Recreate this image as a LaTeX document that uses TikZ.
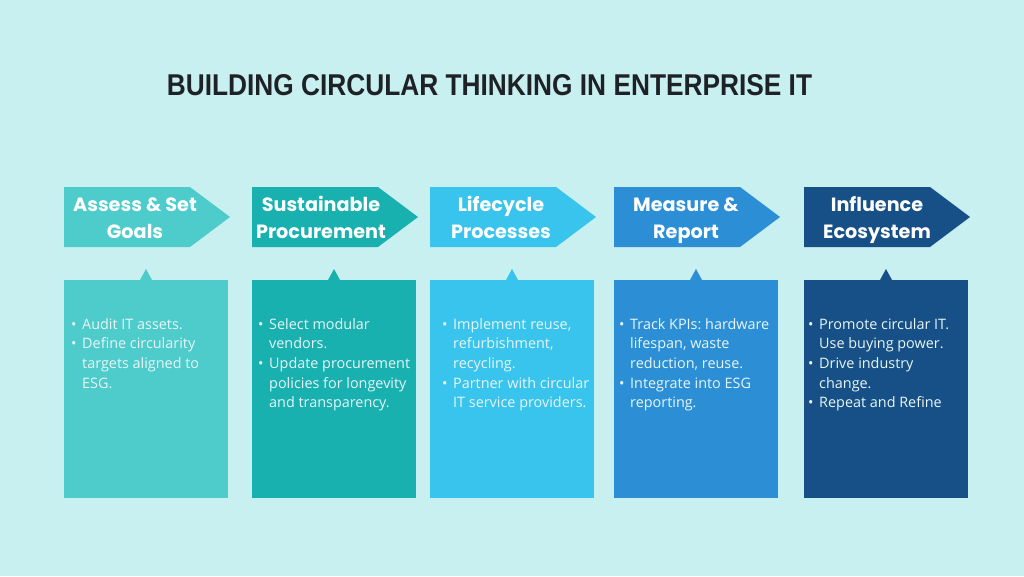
\documentclass[tikz,border=0pt]{standalone}
\usepackage{graphicx}
\usepackage{fontspec}
\setmainfont{Open Sans}
\newfontfamily\headfont{Poppins}
\newfontfamily\titlefont{Liberation Sans}
\definecolor{bg}{RGB}{201,240,240}
\definecolor{titlec}{RGB}{30,34,38}
\definecolor{cA}{RGB}{78,204,203}
\definecolor{cB}{RGB}{25,176,176}
\definecolor{cC}{RGB}{56,196,236}
\definecolor{cD}{RGB}{44,143,214}
\definecolor{cE}{RGB}{22,80,134}
\definecolor{bodyc}{RGB}{232,246,246}
\tikzset{
  headtxt/.style={anchor=base, inner sep=0pt, text=white, font=\headfont\bfseries\fontsize{19.2}{27}\selectfont},
  bodytxt/.style={anchor=base west, inner sep=0pt, text=bodyc, font=\frenchspacing\fontsize{14.4}{19.7}\selectfont},
}
\newcommand{\bl}{\textbullet}
\newenvironment{blist}{\begin{tabular}[t]{@{}p{5pt}@{\hspace{6pt}}l@{}}}{\end{tabular}}
\begin{document}
\begin{tikzpicture}[x=1pt,y=-1pt]
\fill[bg] (0,0) rectangle (1024,576);
\useasboundingbox (0,0) rectangle (1024,576);
% title
\node[anchor=base, inner sep=0pt, text=titlec] (title) at (489.5,95)
  {\resizebox{645pt}{21pt}{\titlefont\bfseries BUILDING CIRCULAR THINKING IN ENTERPRISE IT}};
% arrows, boxes and pointers
\foreach \lx/\col in {64/cA,252/cB,430/cC,614/cD,804/cE}{
  \fill[\col] (\lx,187) -- ++(126,0) -- ++(40,30) -- ++(-40,30) -- ++(-126,0) -- cycle;
  \fill[\col] (\lx,280) rectangle ++(164,218);
  \fill[\col] (\lx+76,280) -- (\lx+82,269) -- (\lx+88,280) -- cycle;
}
% headings
\node[headtxt] (h1) at (135,211) {\begin{tabular}[t]{@{}c@{}}Assess \& Set\\Goals\end{tabular}};
\node[headtxt] (h2) at (321,211) {\begin{tabular}[t]{@{}c@{}}Sustainable\\Procurement\end{tabular}};
\node[headtxt] (h3) at (501,211) {\begin{tabular}[t]{@{}c@{}}Lifecycle\\Processes\end{tabular}};
\node[headtxt] (h4) at (686,211) {\begin{tabular}[t]{@{}c@{}}Measure \&\\Report\end{tabular}};
\node[headtxt] (h5) at (877,211) {\begin{tabular}[t]{@{}c@{}}Influence\\Ecosystem\end{tabular}};
% bodies
\node[bodytxt] (b1) at (71,329) {\begin{blist}
\bl & Audit IT assets.\\
\bl & Define circularity\\
 & targets aligned to\\
 & ESG.\end{blist}};
\node[bodytxt] (b2) at (258,329) {\begin{blist}
\bl & Select modular\\
 & vendors.\\
\bl & Update procurement\\
 & policies for longevity\\
 & and transparency.\end{blist}};
\node[bodytxt] (b3) at (442,329) {\begin{blist}
\bl & Implement reuse,\\
 & refurbishment,\\
 & recycling.\\
\bl & Partner with circular\\
 & IT service providers.\end{blist}};
\node[bodytxt] (b4) at (619,329) {\begin{blist}
\bl & Track KPIs: hardware\\
 & lifespan, waste\\
 & reduction, reuse.\\
\bl & Integrate into ESG\\
 & reporting.\end{blist}};
\node[bodytxt] (b5) at (808,329) {\begin{blist}
\bl & Promote circular IT.\\
 & Use buying power.\\
\bl & Drive industry\\
 & change.\\
\bl & Repeat and Refine\end{blist}};
\end{tikzpicture}
\end{document}
